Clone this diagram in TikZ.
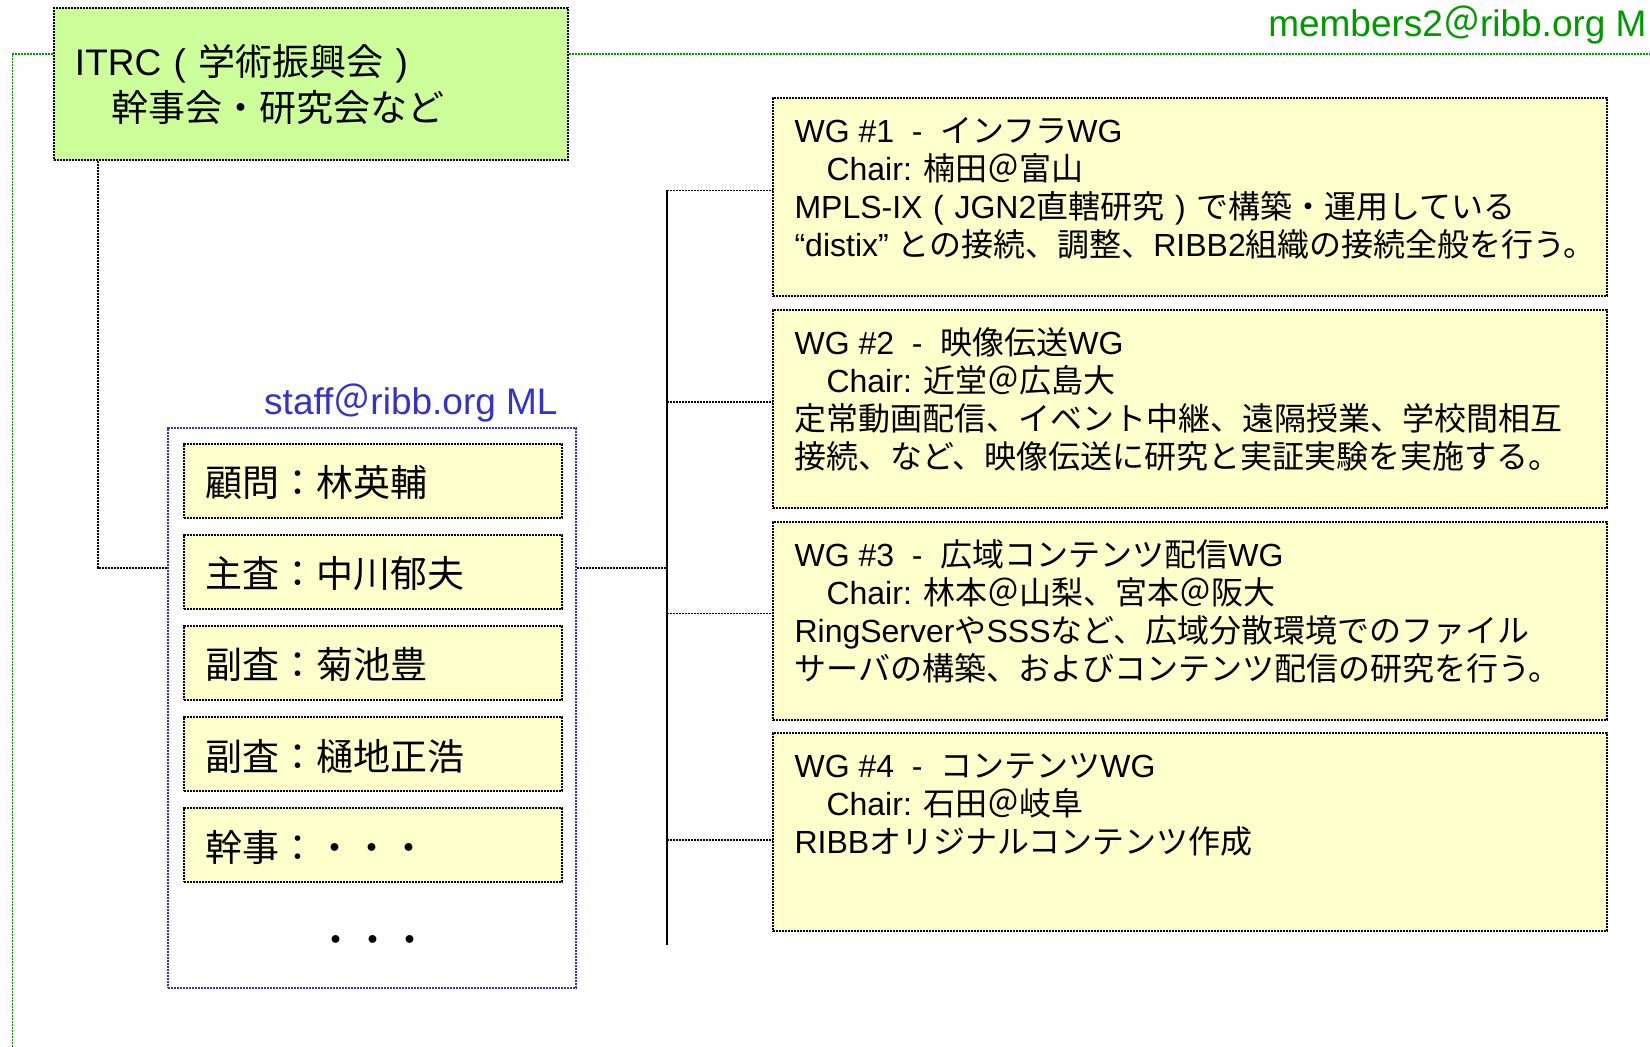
\documentclass[tikz,border=0pt]{standalone}
\usepackage{fontspec}
\setmainfont{Liberation Sans}
\newfontfamily\jp{Noto Sans CJK JP}
\newcommand\J[1]{{\jp #1}}
\newcommand\fw[1]{\makebox[1em][c]{#1}}
\usetikzlibrary{calc}
\definecolor{itrcgreen}{RGB}{204,255,153}
\definecolor{boxyellow}{RGB}{255,255,204}
\definecolor{mlgreen}{RGB}{0,153,0}
\definecolor{mlblue}{RGB}{51,51,204}
\tikzset{
  dline/.style={line width=0.85pt, dash pattern=on 1.1pt off 0.4pt, draw=black},
  gline/.style={line width=0.85pt, dash pattern=on 1.1pt off 0.4pt, draw=mlgreen},
  bline/.style={line width=0.85pt, dash pattern=on 1.1pt off 0.4pt, draw=mlblue},
  itrcbox/.style={dline, fill=itrcgreen, minimum width=257pt, minimum height=76pt,
    text width=236pt, inner xsep=10.5pt, align=left, font=\fontsize{18.5}{23}\selectfont},
  namebox/.style={dline, fill=boxyellow, minimum width=189pt, minimum height=37pt,
    text width=168pt, inner xsep=10.5pt, align=left, text height=18pt, text depth=2pt,
    font=\fontsize{18.5}{22}\selectfont},
  wgbox/.style={dline, fill=boxyellow, minimum width=417pt, minimum height=99pt, inner sep=0pt},
  wgtext/.style={anchor=north west, inner sep=0pt, align=left, font=\fontsize{16}{19}\selectfont},
  mllabel/.style={anchor=base east, inner sep=0pt, font=\fontsize{18.5}{22}\selectfont},
}
\begin{document}
\begin{tikzpicture}[x=1pt,y=-1pt]
\useasboundingbox (0,0) rectangle (825,523.5);

% ITRC
\node[itrcbox] (itrc) at (155.5,42) {ITRC\fw{(}\J{学術振興会}\fw{)}\\\J{　幹事会・研究会など}};

% members2 ML
\node[mllabel, text=mlgreen] (mem) at (823.5,18.3) {members2\J{＠}ribb.org M};
\coordinate (gL) at (6.3,26.85);
\coordinate (gB) at (6.3,523.5);
\coordinate (gR) at (825,26.85);
\draw[gline] (gB) -- (gL) -- (gL -| itrc.west);
\draw[gline] (gL -| itrc.east) -- (gR);

% staff box
\node[bline, minimum width=204pt, minimum height=280pt, inner sep=0pt] (staff) at (186,354) {};
\node[mllabel, text=mlblue] (stafflbl) at (279,207.5) {staff\J{＠}ribb.org ML};

\node[namebox] (n1) at (186.5,240.5) {\J{顧問：林英輔}};
\node[namebox] (n2) at (186.5,286) {\J{主査：中川郁夫}};
\node[namebox] (n3) at (186.5,331.5) {\J{副査：菊池豊}};
\node[namebox] (n4) at (186.5,377) {\J{副査：樋地正浩}};
\node[namebox] (n5) at (186.5,422.5) {\J{幹事：・・・}};
\node[inner sep=0pt, font=\fontsize{18.5}{22}\selectfont] (more) at (186.3,472.2) {\J{・・・}};

% connector ITRC -> staff
\coordinate (k1) at (49,284);
\draw[dline] (itrc.south -| k1) -- (k1) -- (k1 -| staff.west);

% WG boxes
\node[wgbox] (wg1) at (595,98.5) {};
\node[wgbox] (wg2) at (595,204.5) {};
\node[wgbox] (wg3) at (595,310.5) {};
\node[wgbox] (wg4) at (595,416) {};

\node[wgtext] (t1) at ($(wg1.north west)+(11,7.5)$) {\rule{0pt}{15pt}WG \#1\ \ -\ \ \J{インフラ}WG\\
\J{　}Chair: \J{楠田＠富山}\\
MPLS-IX\fw{(}JGN2\J{直轄研究}\fw{)}\J{で構築・運用している}\\
“distix” \J{との接続、調整、}RIBB2\J{組織の接続全般を行う。}};
\node[wgtext] (t2) at ($(wg2.north west)+(11,7.5)$) {\rule{0pt}{15pt}WG \#2\ \ -\ \ \J{映像伝送}WG\\
\J{　}Chair: \J{近堂＠広島大}\\
\J{定常動画配信、イベント中継、遠隔授業、学校間相互}\\
\J{接続、など、映像伝送に研究と実証実験を実施する。}};
\node[wgtext] (t3) at ($(wg3.north west)+(11,7.5)$) {\rule{0pt}{15pt}WG \#3\ \ -\ \ \J{広域コンテンツ配信}WG\\
\J{　}Chair: \J{林本＠山梨、宮本＠阪大}\\
RingServer\J{や}SSS\J{など、広域分散環境でのファイル}\\
\J{サーバの構築、およびコンテンツ配信の研究を行う。}};
\node[wgtext] (t4) at ($(wg4.north west)+(11,7.5)$) {\rule{0pt}{15pt}WG \#4\ \ -\ \ \J{コンテンツ}WG\\
\J{　}Chair: \J{石田＠岐阜}\\
RIBB\J{オリジナルコンテンツ作成}};

% bus
\coordinate (bt) at (333.5,95.2);
\coordinate (bb) at (333.5,472.5);
\coordinate (b2) at (333.5,201);
\coordinate (b3) at (333.5,306.8);
\coordinate (b4) at (333.5,419.9);
\coordinate (bs) at (333.5,284);
\draw[dline] (bt) -- (bb);
\draw[dline] (staff.east |- bs) -- (bs);
\draw[dline] (bt) -- (bt -| wg1.west);
\draw[dline] (b2) -- (b2 -| wg2.west);
\draw[dline] (b3) -- (b3 -| wg3.west);
\draw[dline] (b4) -- (b4 -| wg4.west);
\end{tikzpicture}
\end{document}
